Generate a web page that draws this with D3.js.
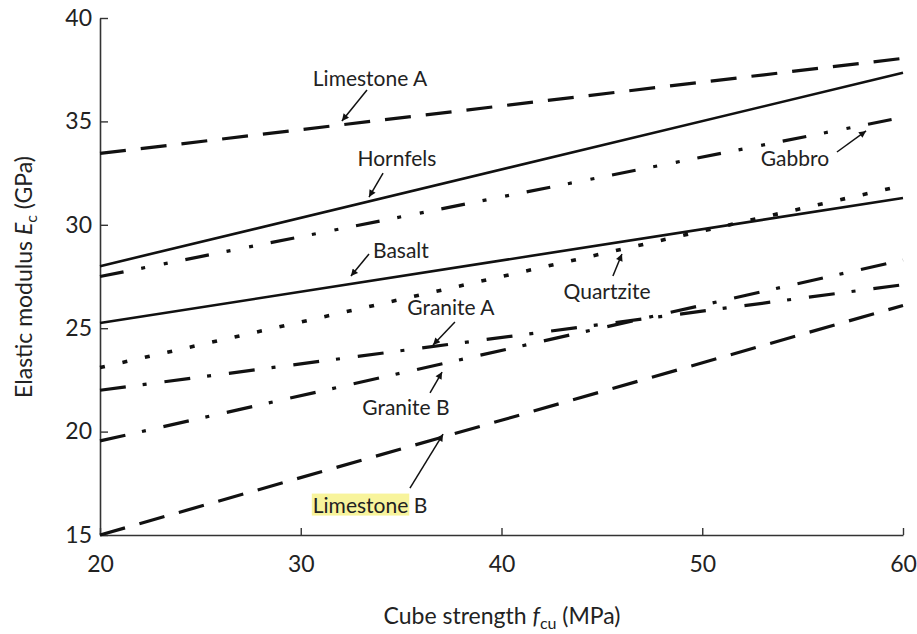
<!DOCTYPE html>
<html>
<head>
<meta charset="utf-8">
<script src="https://cdn.jsdelivr.net/npm/d3@7"></script>
<style>
  body { margin: 0; background: #fff; }
  svg text { font-family: "Lato", "DejaVu Sans", sans-serif; fill: #222; }
</style>
</head>
<body>
<div id="chart"></div>
<script>
// cube strength (MPa) at the two ends of every line
const strength = [20, 60];

// elastic modulus (GPa)
const limestoneA = [33.45, 38.05];
const hornfels = [28.0, 37.35];
const gabbro = [27.5, 35.2];
const basalt = [25.25, 31.3];
const quartzite = [23.1, 31.9];
const graniteA = [22.0, 27.1];
const graniteB = [19.55, 28.3];
const limestoneB = [15.0, 26.1];

const xTicks = [20, 30, 40, 50, 60];
const yTicks = [15, 20, 25, 30, 35, 40];

// line styles
const series = [
    {name: "Limestone A", values: limestoneA, dash: "26 15", w: 3.2},
    {name: "Hornfels", values: hornfels, dash: null, w: 2.6},
    {name: "Gabbro", values: gabbro, dash: "24 18 4 19 4 18", w: 3.2},
    {name: "Basalt", values: basalt, dash: null, w: 2.6},
    {name: "Quartzite", values: quartzite, dash: "5 18", w: 3.6},
    {name: "Granite A", values: graniteA, dash: "26 17 4 18", w: 3.2},
    {name: "Granite B", values: graniteB, dash: "26 17 4 18", w: 3.2},
    {name: "Limestone B", values: limestoneB, dash: "26 15", w: 3.2}
];

// labels and arrows, in data units: text centre, arrow start, arrow tip
const notes = [
    {label: "Limestone A", t: [33.45, 37.10], a: [33.30, 36.52], b: [32.05, 35.02]},
    {label: "Hornfels", t: [34.79, 33.23], a: [34.10, 32.50], b: [33.40, 31.34]},
    {label: "Gabbro", t: [54.62, 33.23], a: [56.71, 33.52], b: [58.16, 34.54]},
    {label: "Basalt", t: [34.99, 28.78], a: [33.40, 28.59], b: [32.50, 27.52]},
    {label: "Quartzite", t: [45.26, 26.80], a: [45.55, 27.52], b: [46.00, 28.59]},
    {label: "Granite A", t: [37.48, 25.98], a: [37.68, 25.30], b: [36.59, 24.19]},
    {label: "Granite B", t: [35.24, 21.19], a: [36.44, 21.87], b: [37.04, 22.88]},
    {label: "Limestone B", t: [33.45, 16.45], a: [35.44, 17.27], b: [37.09, 19.88], mark: 9}
];

const width = 917, height = 634;

const svg = d3.select("#chart")
    .append("svg")
    .attr("width", width)
    .attr("height", height);

const x = d3.scaleLinear().domain([20, 60]).range([100, 903]);
const y = d3.scaleLinear().domain([15, 40]).range([535, 18]);

svg.append("defs").append("marker")
    .attr("id", "head")
    .attr("viewBox", "0 0 10 10")
    .attr("refX", 10)
    .attr("refY", 5)
    .attr("markerWidth", 11)
    .attr("markerHeight", 7)
    .attr("markerUnits", "userSpaceOnUse")
    .attr("orient", "auto")
    .append("path")
    .attr("d", "M0,0 L10,5 L0,10 Z")
    .attr("fill", "#111");

// axes
const xAxis = svg.append("g")
    .attr("transform", "translate(0," + y(15) + ")")
    .call(d3.axisBottom(x).tickValues(xTicks).tickSizeInner(-7).tickSizeOuter(0).tickPadding(21));
const yAxis = svg.append("g")
    .attr("transform", "translate(" + x(20) + ",0)")
    .call(d3.axisLeft(y).tickValues(yTicks).tickSizeInner(-8).tickSizeOuter(0).tickPadding(8));

[xAxis, yAxis].forEach(function (g) {
    g.select(".domain").attr("stroke", "#333").attr("stroke-width", 1.6);
    g.selectAll(".tick line").attr("stroke", "#333").attr("stroke-width", 1.4);
    g.selectAll(".tick text").style("font-size", "23px").attr("fill", "#222");
});

// lines
const line = d3.line()
    .x(function (d, i) { return x(strength[i]); })
    .y(function (d) { return y(d); });

svg.selectAll(".series")
    .data(series)
    .enter()
    .append("path")
    .attr("class", "series")
    .attr("d", function (d) { return line(d.values); })
    .attr("fill", "none")
    .attr("stroke", "#111")
    .attr("stroke-width", function (d) { return d.w; })
    .attr("stroke-dasharray", function (d) { return d.dash; });

// annotations
notes.forEach(function (n) {
    const t = svg.append("text")
        .attr("x", x(n.t[0]))
        .attr("y", y(n.t[1]))
        .attr("text-anchor", "middle")
        .attr("dy", "0.36em")
        .style("font-size", "21px")
        .attr("fill", "#2a2a2a")
        .text(n.label);

    if (n.mark) {
        // yellow highlight behind the first word only
        const bb = t.node().getBBox();
        const len = t.node().getSubStringLength(0, n.mark);
        svg.insert("rect", function () { return t.node(); })
            .attr("x", bb.x - 1)
            .attr("y", bb.y + 2)
            .attr("width", len + 2)
            .attr("height", bb.height - 3)
            .attr("fill", "#f8f49c");
    }

    svg.append("line")
        .attr("x1", x(n.a[0]))
        .attr("y1", y(n.a[1]))
        .attr("x2", x(n.b[0]))
        .attr("y2", y(n.b[1]))
        .attr("stroke", "#111")
        .attr("stroke-width", 1.5)
        .attr("marker-end", "url(#head)");
});

// axis titles
svg.append("text")
    .attr("x", 502)
    .attr("y", 624)
    .attr("text-anchor", "middle")
    .style("font-size", "23px")
    .html('Cube strength <tspan font-style="italic">f</tspan><tspan dy="5" style="font-size:16px">cu</tspan><tspan dy="-5"> (MPa)</tspan>');

svg.append("text")
    .attr("transform", "translate(32,277) rotate(-90)")
    .attr("text-anchor", "middle")
    .style("font-size", "23px")
    .html('Elastic modulus <tspan font-style="italic">E</tspan><tspan dy="5" style="font-size:16px">c</tspan><tspan dy="-5"> (GPa)</tspan>');
</script>
</body>
</html>
